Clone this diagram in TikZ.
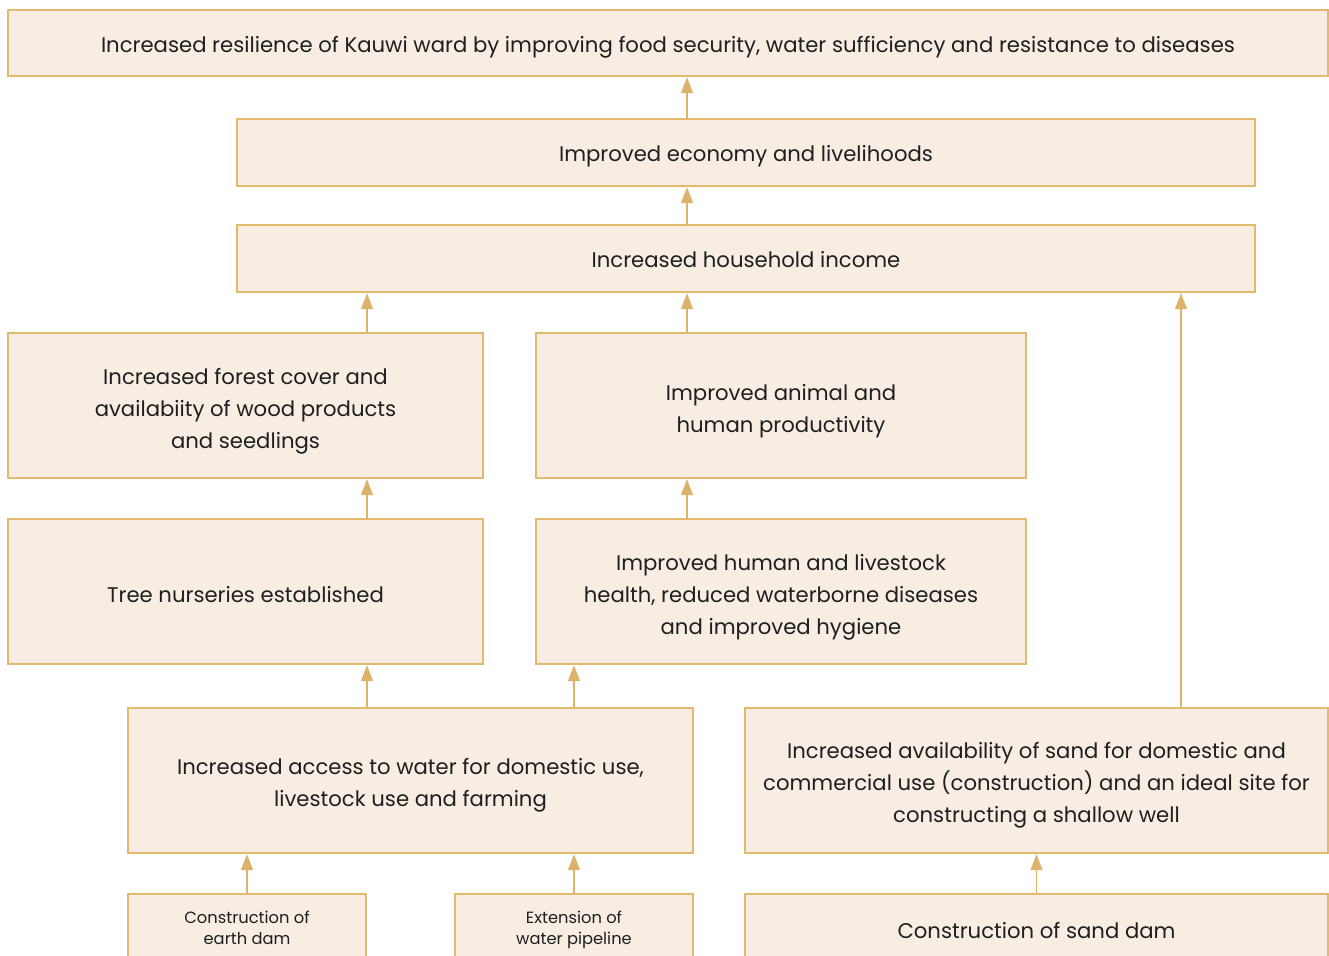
\documentclass[tikz,border=0pt]{standalone}
\usepackage{fontspec}
\setmainfont{Poppins}
\usetikzlibrary{arrows.meta}
\definecolor{boxfill}{HTML}{F7EDE2}
\definecolor{boxline}{HTML}{E3B96D}
\definecolor{arrcol}{HTML}{DDB26A}
\tikzset{
  box/.style={draw=boxline, fill=boxfill, line width=1.2pt, inner sep=0pt},
  txt/.style={inner sep=0pt, align=center, font=\fontsize{21.2}{32}\selectfont, text=black!88},
  smalltxt/.style={txt, font=\fontsize{16.3}{21}\selectfont},
  arr/.style={draw=arrcol, line width=1.2pt, -{Triangle[width=12pt,length=16pt]}, shorten >=0.6pt}
}
\begin{document}
\begin{tikzpicture}[x=1pt,y=-1pt]
\useasboundingbox (0,0) rectangle (1329,955);
\clip (0,0) rectangle (1329,955);
% boxes
\node[box, minimum width=1320, minimum height=66] (top) at (668,43) {};
\node[box, minimum width=1018, minimum height=67] (econ) at (746,152.5) {};
\node[box, minimum width=1018, minimum height=67] (income) at (746,258.5) {};
\node[box, minimum width=475, minimum height=145] (forest) at (245.5,405.5) {};
\node[box, minimum width=490, minimum height=145] (animal) at (781,405.5) {};
\node[box, minimum width=475, minimum height=145] (nursery) at (245.5,591.5) {};
\node[box, minimum width=490, minimum height=145] (health) at (781,591.5) {};
\node[box, minimum width=565, minimum height=145] (access) at (410.5,780.5) {};
\node[box, minimum width=583, minimum height=145] (sand) at (1036.5,780.5) {};
\node[box, minimum width=238, minimum height=70] (earth) at (247,929) {};
\node[box, minimum width=238, minimum height=70] (pipe) at (574,929) {};
\node[box, minimum width=583, minimum height=70] (sanddam) at (1036.5,929) {};
% texts
\node[txt] (top-t) at ([yshift=-4pt]top.center) {Increased resilience of Kauwi ward by improving food security, water sufficiency and resistance to diseases};
\node[txt] (econ-t) at ([yshift=-4pt]econ.center) {Improved economy and livelihoods};
\node[txt] (income-t) at ([yshift=-1pt]income.center) {Increased household income};
\node[txt] (forest-t) at ([yshift=-6pt]forest.center) {Increased forest cover and\\availabiity of wood products\\and seedlings};
\node[txt] (animal-t) at ([yshift=-6pt]animal.center) {Improved animal and\\human productivity};
\node[txt] (nursery-t) at ([yshift=-3pt]nursery.center) {Tree nurseries established};
\node[txt] (health-t) at ([yshift=-6pt]health.center) {Improved human and livestock\\health, reduced waterborne diseases\\and improved hygiene};
\node[txt] (access-t) at ([yshift=-5pt]access.center) {Increased access to water for domestic use,\\livestock use and farming};
\node[txt] (sand-t) at ([yshift=-5pt]sand.center) {Increased availability of sand for domestic and\\commercial use (construction) and an ideal site for\\constructing a shallow well};
\node[smalltxt] (earth-t) at ([yshift=1pt]earth.center) {Construction of\\earth dam};
\node[smalltxt] (pipe-t) at ([yshift=-1pt]pipe.center) {Extension of\\water pipeline};
\node[txt] (sanddam-t) at ([yshift=-1pt]sanddam.center) {Construction of sand dam};
% x positions of connectors
\coordinate (xa) at (687,0);
\coordinate (xb) at (367,0);
\coordinate (xc) at (1181,0);
\coordinate (xd) at (574,0);
\coordinate (xe) at (247,0);
\coordinate (xf) at (1036.5,0);
% connectors
\draw[arr] (econ.north -| xa) -- (top.south -| xa);
\draw[arr] (income.north -| xa) -- (econ.south -| xa);
\draw[arr] (forest.north -| xb) -- (income.south -| xb);
\draw[arr] (animal.north -| xa) -- (income.south -| xa);
\draw[arr] (sand.north -| xc) -- (income.south -| xc);
\draw[arr] (nursery.north -| xb) -- (forest.south -| xb);
\draw[arr] (health.north -| xa) -- (animal.south -| xa);
\draw[arr] (access.north -| xb) -- (nursery.south -| xb);
\draw[arr] (access.north -| xd) -- (health.south -| xd);
\draw[arr] (earth.north -| xe) -- (access.south -| xe);
\draw[arr] (pipe.north -| xd) -- (access.south -| xd);
\draw[arr] (sanddam.north -| xf) -- (sand.south -| xf);
\end{tikzpicture}
\end{document}
